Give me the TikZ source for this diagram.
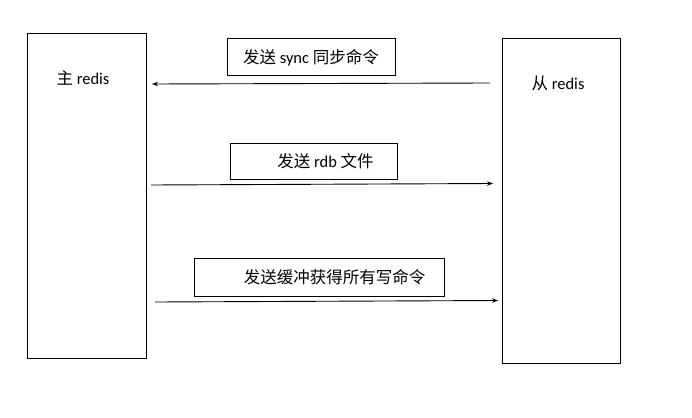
\documentclass[tikz,border=0pt]{standalone}
\usepackage{fontspec}
\setmainfont{Carlito}
\newfontfamily\cjk{Noto Sans CJK SC}
\usetikzlibrary{arrows.meta}
\tikzset{
  bigbox/.style={draw, line width=1pt, minimum width=119pt, minimum height=324pt, inner sep=0pt},
  msgbox/.style={draw, line width=1pt, inner sep=0pt, font=\fontsize{16.5}{18}\selectfont},
  lbl/.style={inner sep=0pt, font=\fontsize{16.5}{18}\selectfont},
  msgarrow/.style={draw, line width=0.9pt, -{Stealth[length=6pt,width=4.5pt]}}
}
\newcommand{\zh}[1]{{\cjk\fontsize{16.5}{18}\selectfont #1}}
\begin{document}
\begin{tikzpicture}[x=1pt,y=-1pt]
\useasboundingbox (0,0) rectangle (692,417);
\node[bigbox] (master) at (86.5,196) {};
\node[bigbox, minimum width=118pt] (slave) at (561,201) {};
\node[lbl] (mlabel) at (83,78) {\zh{主} redis};
\node[lbl] (slabel) at (558,83) {\zh{从} redis};

\node[msgbox, minimum width=168pt, minimum height=37pt] (m1) at (311,57.5) {\zh{发送} sync \zh{同步命令}};
\node[msgbox, minimum width=167pt, minimum height=36pt] (m2) at (313.5,161) {\hspace*{24pt}\zh{发送} rdb \zh{文件}};
\node[msgbox, minimum width=250pt, minimum height=38pt] (m3) at (319,277) {\hspace*{31pt}\zh{发送缓冲获得所有写命令}};

\coordinate (a1s) at (490,83);
\coordinate (a1e) at (152,84);
\coordinate (a2s) at (151,185);
\coordinate (a2e) at (493,183.5);
\coordinate (a3s) at (155,302);
\coordinate (a3e) at (498,300.5);
\draw[msgarrow] (a1s) -- (a1e);
\draw[msgarrow] (a2s) -- (a2e);
\draw[msgarrow] (a3s) -- (a3e);
\end{tikzpicture}
\end{document}
